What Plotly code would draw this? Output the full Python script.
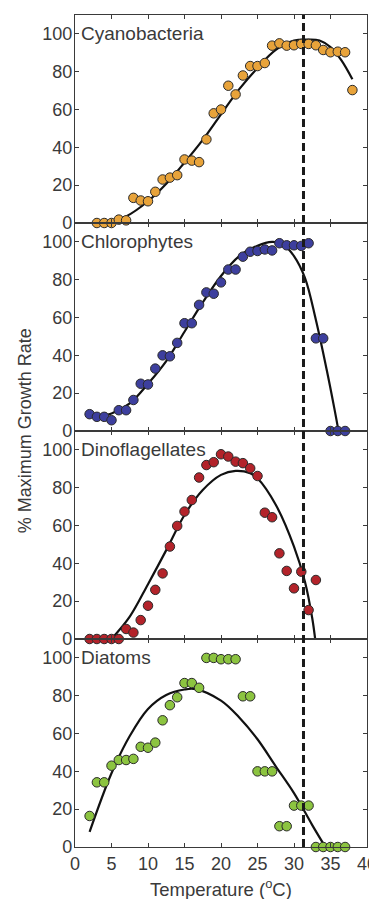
import plotly.graph_objects as go
from plotly.subplots import make_subplots

# ---- data ----
names = ["Cyanobacteria", "Chlorophytes", "Dinoflagellates", "Diatoms"]
colors = ["#E8A33A", "#3D3F9E", "#B3232A", "#8CC440"]

cyano_t = [3, 4, 5, 6, 7, 8, 9, 10, 11, 12, 13, 14, 15, 16, 17, 18, 19, 20, 21, 22, 23, 24, 25, 26,
           27, 28, 29, 30, 31, 32, 33, 34, 35, 36, 37, 38]
cyano_v = [0, 0, 0, 1.8, 1.4, 13.3, 11.9, 11.5, 16.5, 23, 24, 25.3, 33.6, 33, 32.2, 44.2, 58, 60, 72.6,
           68, 78, 83, 83, 84.6, 93.8, 95, 93.8, 94, 94.7, 94.7, 94, 91.5, 90.3, 90.6, 90.3, 70.3]
cyano_fit_t = [3, 5, 7, 10, 12.5, 15, 17.5, 20, 22.5, 25, 27.5, 30, 32, 33.5, 35, 36.5, 38]
cyano_fit_v = [0, 1, 3.5, 11.5, 20.7, 32, 44, 57.5, 70.8, 82, 91.5, 96.5, 97, 96.5, 93, 86, 76]

chloro_t = [2, 3, 4, 5, 6, 7, 8, 9, 10, 11, 12, 13, 14, 15, 16, 17, 18, 19, 20, 21, 22, 23, 24, 25,
            26, 27, 28, 29, 30, 31, 32, 33, 34, 35, 36, 37]
chloro_v = [8.9, 7.5, 7.5, 5.7, 11, 11, 16.4, 25, 24.6, 33, 40, 39.5, 46.6, 57, 57, 66.7, 73.3, 72.6,
            78.6, 85.4, 85.4, 92.2, 94.8, 95.2, 96, 95.5, 99.3, 98.2, 98.2, 97.9, 99.3, 49, 49, 0, 0, 0]
chloro_fit_t = [2, 3, 5, 7.5, 10, 12.5, 15, 17.5, 20, 22.5, 25, 27, 28.5, 30, 31.5, 33, 34.5, 35.5, 36.1]
chloro_fit_v = [8.4, 7.6, 9.3, 14.6, 25, 37, 52.5, 68, 82, 92.5, 98, 100, 98.8, 92.5, 81, 58.7, 32, 12.5, 0]

dino_t = [2, 3, 4, 5, 6, 7, 8, 9, 10, 11, 12, 13, 14, 15, 16, 17, 18, 19, 20, 21, 22, 23, 24, 25,
          26, 27, 28, 29, 30, 31, 32, 33]
dino_v = [0, 0, 0, 0, 0, 5.3, 3.4, 10, 17.6, 26, 34.7, 48.9, 59.8, 67.4, 73.5, 85.4, 92, 93.5, 97.7,
          96.5, 93.8, 93, 90.3, 86.2, 66.8, 64.4, 45.3, 36, 26.8, 35.6, 15.3, 31.2]
dino_fit_t = [5, 7.5, 10, 12.5, 15, 17.5, 20, 22, 24, 25, 27.5, 30, 31.5, 32.5, 32.9]
dino_fit_v = [0, 11.8, 29, 47, 65.6, 78.8, 86.8, 88.9, 87.7, 85, 71, 48.9, 30.3, 11, 0]

diatom_t = [2, 3, 4, 5, 6, 7, 8, 9, 10, 11, 12, 13, 14, 15, 16, 17, 18, 19, 20, 21, 22, 23, 24, 25,
            26, 27, 28, 29, 30, 31, 32, 33, 34, 35, 36, 37]
diatom_v = [16.4, 34.2, 34.2, 43, 46, 46, 46.6, 53, 52.5, 55.2, 67, 75, 79.2, 86.7, 86.7, 84.2, 100,
            100, 99.3, 99.3, 99.3, 79.7, 79.7, 40, 40, 40, 11, 11, 21.9, 21.9, 21.9, 0, 0, 0, 0, 0]
diatom_fit_t = [2, 5, 7.5, 10, 12.5, 15, 16.5, 20, 22.5, 25, 27.5, 30, 32.5, 34.3]
diatom_fit_v = [8, 39, 58.7, 73, 80.4, 83.3, 83.5, 77.4, 68.5, 57, 42.7, 28.5, 11.6, 0]

opt_temp = 31.3
x_ticks = [0, 5, 10, 15, 20, 25, 30, 35, 40]
y_ticks = [0, 20, 40, 60, 80, 100]

series = [
    (cyano_t, cyano_v, cyano_fit_t, cyano_fit_v),
    (chloro_t, chloro_v, chloro_fit_t, chloro_fit_v),
    (dino_t, dino_v, dino_fit_t, dino_fit_v),
    (diatom_t, diatom_v, diatom_fit_t, diatom_fit_v),
]

FONT = "Liberation Sans, Arial, sans-serif"
TXT = "#3a3a3a"
# page body has an 8px default margin: the figure is sized/offset to compensate
FIG_W, FIG_H = 369, 891
M_L, M_R, M_T, M_B = 67, 10, 7, 52
PLOT_H = FIG_H - M_T - M_B

fig = make_subplots(rows=4, cols=1, shared_xaxes=True, vertical_spacing=0)

for i, (t, v, ft, fv) in enumerate(series):
    r = i + 1
    fig.add_trace(go.Scatter(x=ft, y=fv, mode="lines", line=dict(color="#111111", width=2.2, shape="spline", smoothing=1.0),
                             showlegend=False, hoverinfo="skip", cliponaxis=False), row=r, col=1)
    fig.add_trace(go.Scatter(x=t, y=v, mode="markers", cliponaxis=False, showlegend=False,
                             marker=dict(size=9.5, color=colors[i], line=dict(color="#2a2a2a", width=1))),
                  row=r, col=1)
    fig.add_annotation(text=names[i], x=0.012, xref=f"x{'' if r == 1 else r} domain",
                       y=100, yref=f"y{'' if r == 1 else r}", xanchor="left", yanchor="middle",
                       showarrow=False, font=dict(family=FONT, size=19, color=TXT))

axis_common = dict(showline=True, linecolor="#3a3a3a", linewidth=1.3, mirror="ticks",
                   ticks="inside", ticklen=4, tickcolor="#3a3a3a", tickwidth=1,
                   showgrid=False, zeroline=False, automargin=False,
                   tickfont=dict(family=FONT, size=18, color=TXT))

for r in range(1, 5):
    fig.update_xaxes(range=[0, 40], tickvals=x_ticks, showticklabels=(r == 4), row=r, col=1,
                     ticklabeloverflow="allow", **axis_common)
    fig.update_yaxes(range=[0, 110], tickvals=y_ticks, row=r, col=1, ticklabelstandoff=-2, **axis_common)

fig.add_annotation(text="Temperature (<sup>o</sup>C)", xref="paper", yref="paper",
                   x=0.5, y=-41 / PLOT_H, xanchor="center", yanchor="middle", showarrow=False,
                   font=dict(family=FONT, size=18.5, color=TXT))

fig.add_annotation(text="% Maximum Growth Rate", textangle=-90, xref="paper", yref="paper",
                   x=-0.17, y=0.5, xanchor="center", yanchor="middle", showarrow=False,
                   font=dict(family=FONT, size=18, color=TXT))

fig.add_shape(type="line", xref="x4", yref="paper", x0=opt_temp, x1=opt_temp, y0=0, y1=1,
              line=dict(color="#1a1a1a", width=3, dash="8px,4px"))

fig.update_layout(width=FIG_W, height=FIG_H, margin=dict(l=M_L, r=M_R, t=M_T, b=M_B, autoexpand=False),
                  paper_bgcolor="white", plot_bgcolor="white", font=dict(family=FONT, color=TXT))

fig.write_html("out.html")
